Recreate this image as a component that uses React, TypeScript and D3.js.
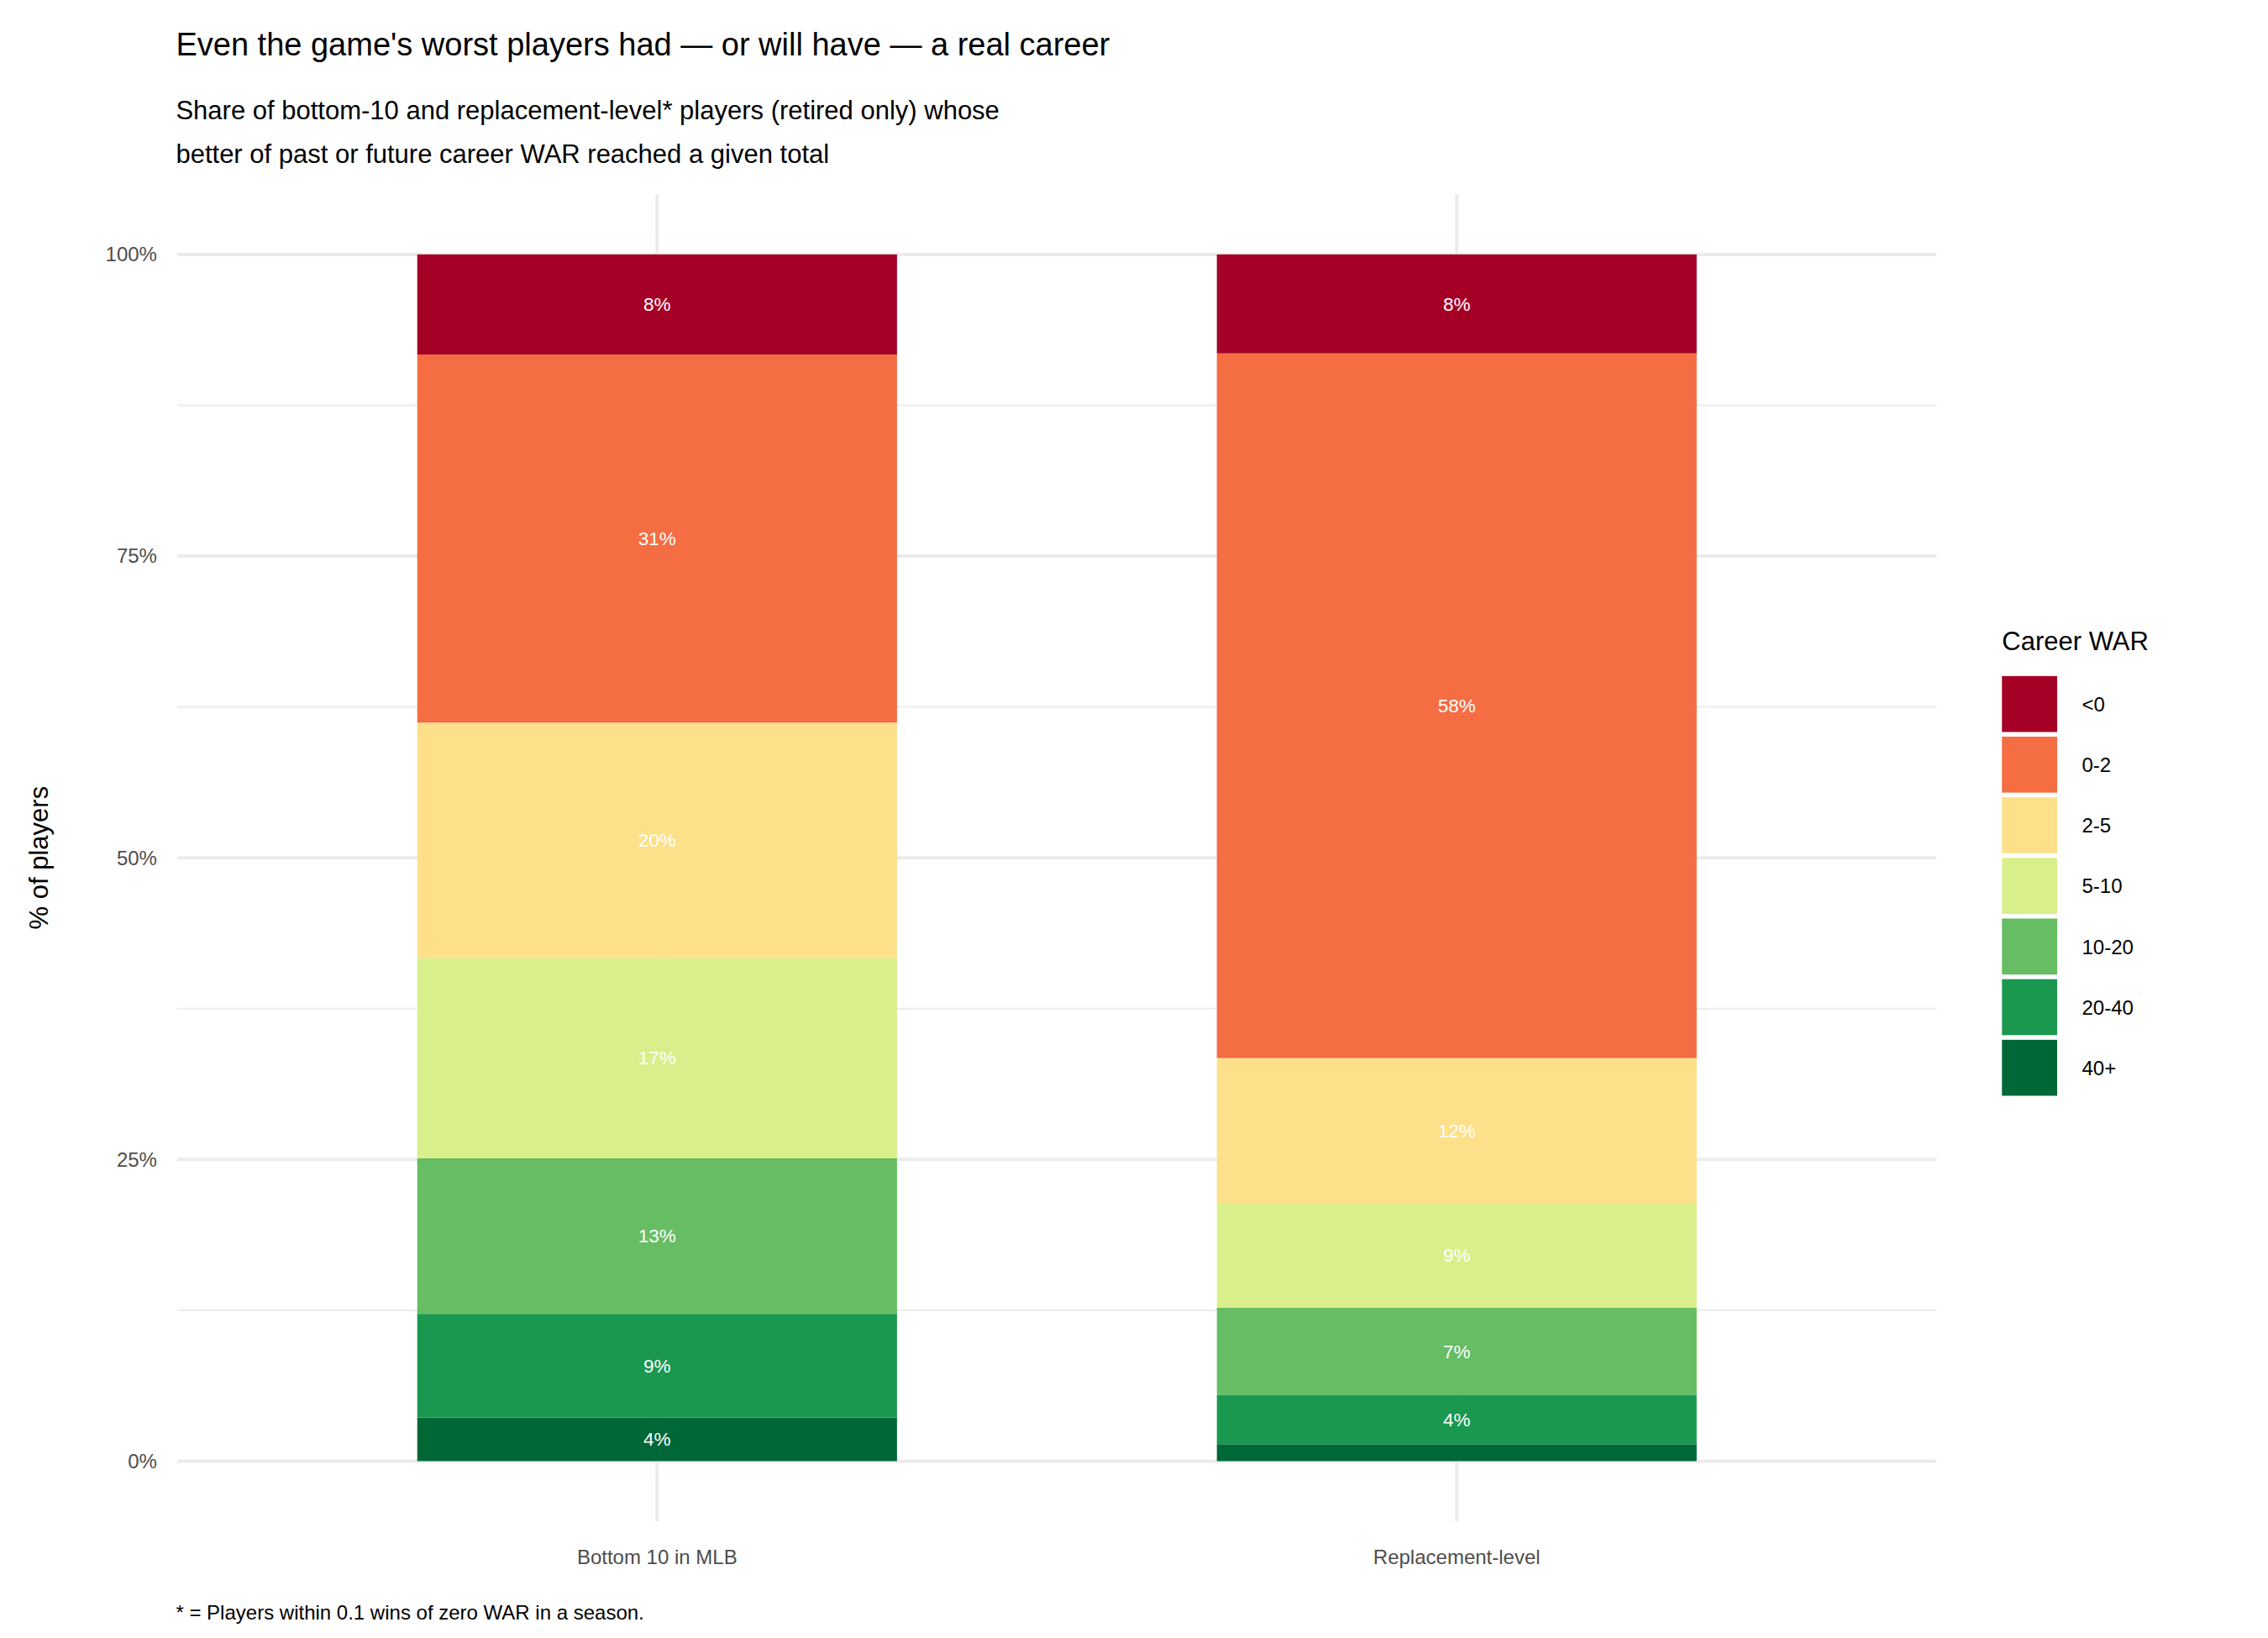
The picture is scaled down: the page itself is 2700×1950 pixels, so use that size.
import React from "react";
import * as d3 from "d3";

const categories = ["Bottom 10 in MLB", "Replacement-level"];
const bins = ["40+", "20-40", "10-20", "5-10", "2-5", "0-2", "<0"];
const bottom10 = [3.6, 8.6, 12.9, 16.6, 19.5, 30.5, 8.3];
const replacement = [1.4, 4.1, 7.2, 8.7, 12.0, 58.4, 8.2];
const colors = ["#006837", "#1a9850", "#66bd63", "#d9ef8b", "#fee08b", "#f46d43", "#a50026"];
const yTicks = [0, 25, 50, 75, 100];

const S = 2700 / 1560;
const F = "Arial, 'Liberation Sans', sans-serif";

export default function App() {
  const W = 2700, H = 1950;
  const x0 = 122 * S, x1 = 1332 * S;
  const x = d3.scaleLinear().domain([0.4, 2.6]).range([x0, x1]);
  const y = d3.scaleLinear().domain([-5, 105]).range([(1005 + 41.5) * S, (175 - 41.5) * S]);
  const series = [bottom10, replacement];
  const bw = 0.6;
  const legendLabels = [...bins].reverse();
  const legendColors = [...colors].reverse();
  return (
    <svg width={W} height={H} style={{ position: "absolute", left: 0, top: 0, background: "#fff" }} fontFamily={F}>
      {d3.range(0, 101, 12.5).map((t) => (
        <line key={"g" + t} x1={x0} x2={x1} y1={y(t)} y2={y(t)} stroke="#ebebeb" strokeWidth={t % 25 === 0 ? 4 : 2} />
      ))}
      {categories.map((c, i) => (
        <line key={"v" + c} x1={x(i + 1)} x2={x(i + 1)} y1={y(105)} y2={y(-5)} stroke="#ebebeb" strokeWidth={4} />
      ))}
      {series.map((vals, i) => {
        let cum = 0;
        return vals.map((v, j) => {
          const lo = cum;
          cum += v;
          const hi = cum;
          return (
            <g key={i + "-" + j}>
              <rect x={x(i + 1 - bw / 2)} width={x(bw) - x(0)} y={y(hi)} height={y(lo) - y(hi)} fill={colors[j]} />
              {v >= 2 && (
                <text x={x(i + 1)} y={y((lo + hi) / 2)} dy="0.35em" textAnchor="middle" fill="#fff" fontSize={22.5}>
                  {Math.round(v) + "%"}
                </text>
              )}
            </g>
          );
        });
      })}
      {yTicks.map((t) => (
        <text key={"yt" + t} x={108 * S} y={y(t)} dy="0.35em" textAnchor="end" fill="#4d4d4d" fontSize={24}>
          {t + "%"}
        </text>
      ))}
      {categories.map((c, i) => (
        <text key={"xt" + c} x={x(i + 1)} y={1076 * S} textAnchor="middle" fill="#4d4d4d" fontSize={24}>
          {c}
        </text>
      ))}
      <text transform={`translate(${33 * S},${590 * S}) rotate(-90)`} textAnchor="middle" fontSize={31} fill="#000">% of players</text>
      <text x={121 * S} y={38 * S} fontSize={38} fill="#000">Even the game's worst players had — or will have — a real career</text>
      <text x={121 * S} y={82 * S} fontSize={31} fill="#000">Share of bottom-10 and replacement-level* players (retired only) whose</text>
      <text x={121 * S} y={112 * S} fontSize={31} fill="#000">better of past or future career WAR reached a given total</text>
      <text x={121 * S} y={1114 * S} fontSize={24} fill="#000">* = Players within 0.1 wins of zero WAR in a season.</text>
      <text x={1377 * S} y={447 * S} fontSize={31} fill="#000">Career WAR</text>
      {legendLabels.map((l, k) => (
        <g key={"lg" + l}>
          <rect x={1377 * S} y={(465 + k * 41.7) * S} width={38 * S} height={38.5 * S} fill={legendColors[k]} />
          <text x={1432 * S} y={(465 + k * 41.7 + 19.5) * S} dy="0.35em" fontSize={24} fill="#000">{l}</text>
        </g>
      ))}
    </svg>
  );
}
